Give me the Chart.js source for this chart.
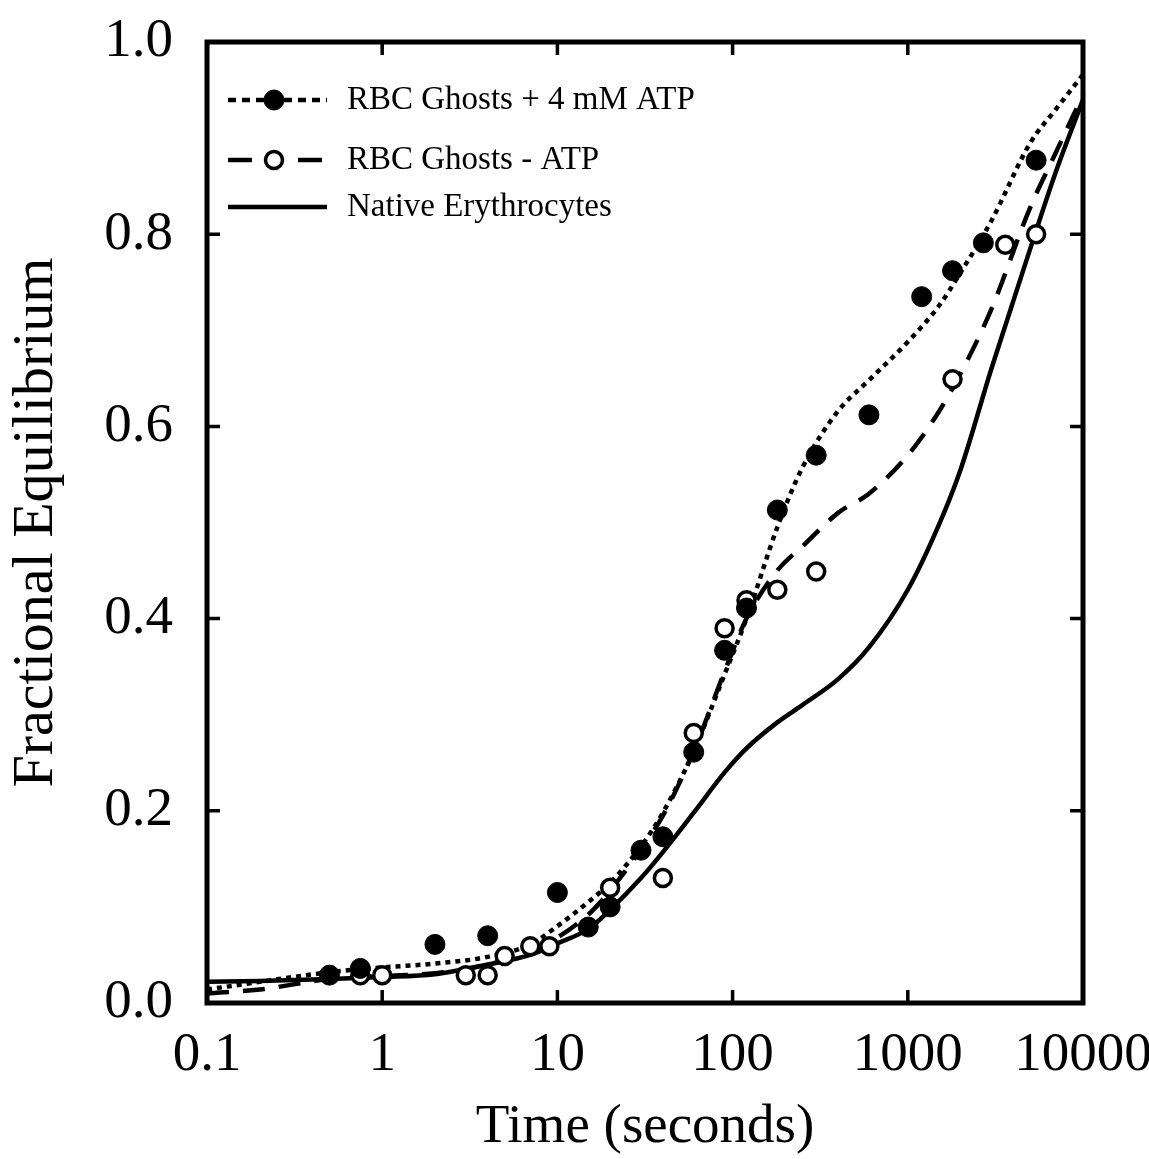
<!DOCTYPE html>
<html>
<head>
<meta charset="utf-8">
<script src="https://cdn.jsdelivr.net/npm/chart.js@4.4.1/dist/chart.umd.min.js"></script>
<style>
  html, body { margin: 0; padding: 0; background: #fff; }
</style>
</head>
<body>
<canvas id="equilibrium-chart" width="1149" height="1159"></canvas>
<script>
// measured points
var atpTime = [0.5, 0.75, 2, 4, 10, 15, 20, 30, 40, 60, 90, 120, 180, 300, 600, 1200, 1800, 2700, 5400];
var atpFrac = [0.029, 0.036, 0.061, 0.070, 0.115, 0.079, 0.100, 0.159, 0.173, 0.261, 0.367, 0.411, 0.513, 0.570, 0.612, 0.735, 0.762, 0.791, 0.877];

var noAtpTime = [0.75, 1, 3, 4, 5, 7, 9, 20, 40, 60, 90, 120, 180, 300, 1800, 3600, 5400];
var noAtpFrac = [0.029, 0.029, 0.029, 0.029, 0.049, 0.059, 0.059, 0.120, 0.130, 0.281, 0.390, 0.419, 0.430, 0.449, 0.649, 0.789, 0.800];

// fitted curves, read at these times
var fitTime = [0.1, 0.2, 0.5, 1, 2, 4, 7, 10, 15, 20, 30, 40, 60, 90, 120, 180, 250, 400, 600, 1000, 1500, 2000, 3000, 5000, 7000, 10000];
var atpFit = [0.014, 0.022, 0.032, 0.037, 0.041, 0.048, 0.061, 0.080, 0.105, 0.125, 0.163, 0.198, 0.262, 0.342, 0.400, 0.495, 0.557, 0.616, 0.648, 0.688, 0.725, 0.760, 0.814, 0.895, 0.930, 0.966];
var noAtpFit = [0.010, 0.014, 0.025, 0.028, 0.031, 0.040, 0.053, 0.068, 0.092, 0.117, 0.160, 0.195, 0.262, 0.345, 0.400, 0.450, 0.475, 0.510, 0.530, 0.570, 0.615, 0.655, 0.722, 0.828, 0.885, 0.945];
var nativeFit = [0.022, 0.023, 0.025, 0.027, 0.030, 0.040, 0.050, 0.062, 0.077, 0.097, 0.130, 0.157, 0.198, 0.240, 0.265, 0.292, 0.310, 0.337, 0.370, 0.430, 0.497, 0.555, 0.660, 0.785, 0.865, 0.940];

var xTicks = [0.1, 1, 10, 100, 1000, 10000];
var xTickLabels = ['0.1', '1', '10', '100', '1000', '10000'];
var yTicks = [0, 0.2, 0.4, 0.6, 0.8, 1.0];
var yTickLabels = ['0.0', '0.2', '0.4', '0.6', '0.8', '1.0'];

var serif = "'Liberation Serif', 'Times New Roman', serif";

function pairs(xs, ys) {
    return xs.map(function (x, i) { return { x: x, y: ys[i] }; });
}

// keep tick labels from pushing the plot area inwards
function noLabelPadding(scale) {
    scale.paddingTop = 0;
    scale.paddingBottom = 0;
    scale.paddingLeft = 0;
    scale.paddingRight = 0;
}

// legend rows: line style from the curve, marker from the points
var legendRows = [
    { curve: 2, points: 0 },
    { curve: 3, points: 1 },
    { curve: 4, points: null }
];

var frameAndLegend = {
    id: 'frameAndLegend',
    afterDraw: function (chart) {
        var ctx = chart.ctx;
        var a = chart.chartArea;
        var xs = chart.scales.x, ys = chart.scales.y;
        ctx.save();
        ctx.strokeStyle = '#000';
        ctx.lineWidth = 5;
        ctx.strokeRect(a.left, a.top, a.right - a.left, a.bottom - a.top);

        // inward ticks on all four sides
        ctx.lineWidth = 3.5;
        ctx.beginPath();
        xTicks.forEach(function (v) {
            var px = xs.getPixelForValue(v);
            ctx.moveTo(px, a.bottom); ctx.lineTo(px, a.bottom - 13);
            ctx.moveTo(px, a.top); ctx.lineTo(px, a.top + 13);
        });
        yTicks.forEach(function (v) {
            var py = ys.getPixelForValue(v);
            ctx.moveTo(a.left, py); ctx.lineTo(a.left + 13, py);
            ctx.moveTo(a.right, py); ctx.lineTo(a.right - 13, py);
        });
        ctx.stroke();

        // legend
        var sets = chart.data.datasets;
        var rowY = [100, 160, 207];
        legendRows.forEach(function (row, i) {
            var line = sets[row.curve];
            var y = rowY[i];
            ctx.strokeStyle = '#000';
            ctx.lineWidth = line.borderWidth;
            ctx.setLineDash(line.legendDash || []);
            ctx.beginPath();
            ctx.moveTo(228, y);
            ctx.lineTo(327, y);
            ctx.stroke();
            ctx.setLineDash([]);
            if (row.points !== null) {
                var p = sets[row.points];
                ctx.beginPath();
                ctx.arc(274, y, p.pointRadius, 0, Math.PI * 2);
                ctx.fillStyle = p.pointBackgroundColor;
                ctx.fill();
                ctx.lineWidth = p.pointBorderWidth;
                ctx.strokeStyle = p.pointBorderColor;
                ctx.stroke();
            }
            ctx.fillStyle = '#000';
            ctx.font = '33px ' + serif;
            ctx.textAlign = 'left';
            ctx.textBaseline = 'middle';
            ctx.fillText(line.label, 347, y);
        });
        ctx.restore();
    }
};

new Chart(document.getElementById('equilibrium-chart').getContext('2d'), {
    type: 'scatter',
    data: {
        datasets: [{
            label: 'RBC Ghosts + 4 mM ATP (data)',
            data: pairs(atpTime, atpFrac),
            showLine: false,
            pointRadius: 10,
            pointBackgroundColor: '#000',
            pointBorderColor: '#000',
            pointBorderWidth: 1,
            order: 0
        },
        {
            label: 'RBC Ghosts - ATP (data)',
            data: pairs(noAtpTime, noAtpFrac),
            showLine: false,
            pointRadius: 8.5,
            pointBackgroundColor: '#fff',
            pointBorderColor: '#000',
            pointBorderWidth: 3.5,
            order: 0
        },
        {
            label: 'RBC Ghosts + 4 mM ATP',
            data: pairs(fitTime, atpFit),
            showLine: true,
            pointRadius: 0,
            borderColor: '#000',
            borderWidth: 4.5,
            borderDash: [5, 5],
            legendDash: [8, 6],
            cubicInterpolationMode: 'monotone',
            order: 1
        },
        {
            label: 'RBC Ghosts - ATP',
            data: pairs(fitTime, noAtpFit),
            showLine: true,
            pointRadius: 0,
            borderColor: '#000',
            borderWidth: 4.5,
            borderDash: [22, 14],
            legendDash: [24, 46],
            cubicInterpolationMode: 'monotone',
            order: 1
        },
        {
            label: 'Native Erythrocytes',
            data: pairs(fitTime, nativeFit),
            showLine: true,
            pointRadius: 0,
            borderColor: '#000',
            borderWidth: 4.5,
            cubicInterpolationMode: 'monotone',
            order: 1
        }]
    },
    options: {
        responsive: false,
        animation: false,
        layout: { padding: { top: 42, right: 66, left: 0, bottom: 0 } },
        plugins: {
            legend: { display: false },
            tooltip: { enabled: false }
        },
        scales: {
            x: {
                type: 'logarithmic',
                min: 0.1,
                max: 10000,
                afterBuildTicks: function (scale) {
                    scale.ticks = xTicks.map(function (v) { return { value: v }; });
                },
                afterFit: function (scale) {
                    scale.height = 156;
                    noLabelPadding(scale);
                },
                grid: { display: false, drawTicks: false },
                border: { display: false },
                ticks: {
                    autoSkip: false,
                    maxRotation: 0,
                    padding: 20,
                    color: '#000',
                    font: { family: serif, size: 55 },
                    callback: function (v) { return xTickLabels[xTicks.indexOf(v)]; }
                },
                title: {
                    display: true,
                    text: 'Time (seconds)',
                    color: '#000',
                    font: { family: serif, size: 55, lineHeight: 1 },
                    padding: { top: 0, bottom: 4 }
                }
            },
            y: {
                min: 0,
                max: 1,
                afterBuildTicks: function (scale) {
                    scale.ticks = yTicks.map(function (v) { return { value: v }; });
                },
                afterFit: function (scale) {
                    scale.width = 207;
                    noLabelPadding(scale);
                },
                grid: { display: false, drawTicks: false },
                border: { display: false },
                ticks: {
                    padding: 34,
                    color: '#000',
                    font: { family: serif, size: 55 },
                    callback: function (v) { return yTickLabels[yTicks.indexOf(v)]; }
                },
                title: {
                    display: true,
                    text: 'Fractional Equilibrium',
                    color: '#000',
                    font: { family: serif, size: 58, lineHeight: 1 },
                    padding: { top: 8, bottom: 0 }
                }
            }
        }
    },
    plugins: [frameAndLegend]
});
</script>
</body>
</html>
